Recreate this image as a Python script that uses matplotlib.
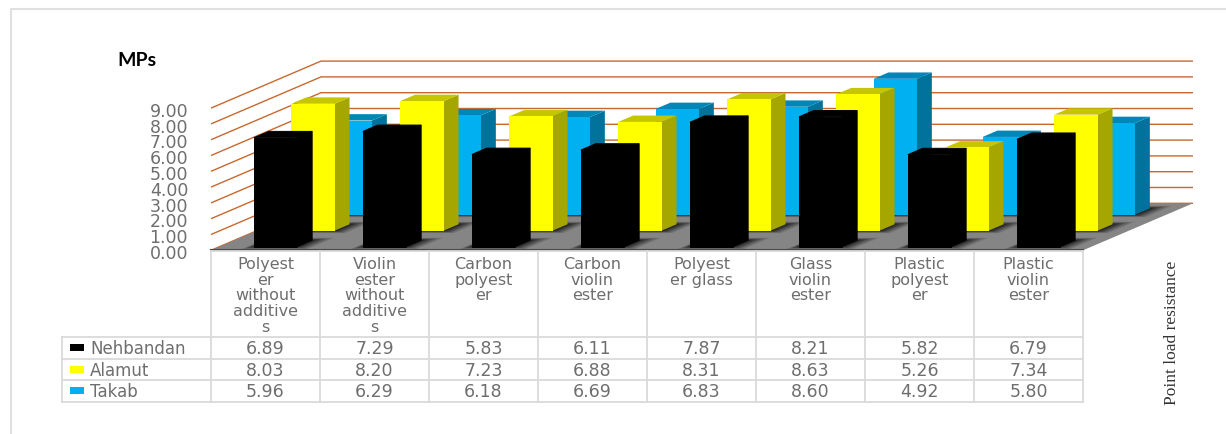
import numpy as np
import matplotlib
matplotlib.use("Agg")
import matplotlib.pyplot as plt
from matplotlib.patches import Polygon

categories = ["Polyest\ner\nwithout\nadditive\ns", "Violin\nester\nwithout\nadditive\ns",
              "Carbon\npolyest\ner", "Carbon\nviolin\nester", "Polyest\ner glass",
              "Glass\nviolin\nester", "Plastic\npolyest\ner", "Plastic\nviolin\nester"]
series_names = ["Nehbandan", "Alamut", "Takab"]
nehbandan = [6.89, 7.29, 5.83, 6.11, 7.87, 8.21, 5.82, 6.79]
alamut = [8.03, 8.20, 7.23, 6.88, 8.31, 8.63, 5.26, 7.34]
takab = [5.96, 6.29, 6.18, 6.69, 6.83, 8.60, 4.92, 5.80]
yticks = np.arange(0, 10)

W, H = 1226, 435
x0, x1 = 211.0, 1083.0   # front edge of the floor in pixels
y0, y9 = 251.3, 109.1    # front wall value 0 and 9 in pixels
DX = 110.0 / ((x1 - x0) / 8)   # wall depth in category units
DY = 47.0 / ((y0 - y9) / 9)    # wall depth in value units
BAR_W = 0.398
BAR_D = 0.135
BAR_X = 0.314

front = ["#000000", "#FFFF00", "#00B0F0"]
side = ["#000000", "#A6A600", "#00729C"]
top = ["#000000", "#C6C600", "#0087B8"]
depth = [0.079, 0.419, 0.758]
GRID = "#C8682E"
TABLE = "#DADADA"
TEXT = "#6E6E6E"

fig = plt.figure(figsize=(W / 100, H / 100), dpi=100)
ax = fig.add_axes([x0 / W, 1 - y0 / H, (x1 - x0) / W, (y0 - y9) / H])
ax.set_xlim(0, 8)
ax.set_ylim(0, 9)
ax.axis("off")

def pr(x, v, d):
    return (x + d * DX, v + d * DY)

# walls
for v in yticks:
    a = pr(0, v, 0)
    b = pr(0, v, 1)
    c = pr(8, v, 1)
    ax.plot([a[0], b[0], c[0]], [a[1], b[1], c[1]], color=GRID, lw=1.0, clip_on=False, zorder=1,
            solid_capstyle="butt")
    ax.text(-0.21, v - 0.05, "%.2f" % v, ha="right", va="center_baseline", fontsize=12.5, color=TEXT,
            family="DejaVu Sans", clip_on=False)

# floor
ax.add_patch(Polygon([pr(0, 0, 0), pr(8, 0, 0), pr(8, 0, 1), pr(0, 0, 1)], closed=True,
                     facecolor="#858585", edgecolor="none", clip_on=False, zorder=2))
ax.plot([0, 8], [0.05, 0.05], color="#4a4a4a", lw=1.5, clip_on=False, zorder=2.1)

# soft shadows on the floor
for s, d in enumerate(depth):
    for i in range(8):
        xl = i + BAR_X
        for grow, alpha in zip([0.15, 0.12, 0.09, 0.06, 0.03], [0.12, 0.16, 0.20, 0.25, 0.30]):
            ax.add_patch(Polygon([pr(xl - grow * 0.4, 0, d - grow * 0.35),
                                  pr(xl + BAR_W + grow, 0, d - grow * 0.35),
                                  pr(xl + BAR_W + grow, 0, d + BAR_D + grow * 0.35),
                                  pr(xl - grow * 0.4, 0, d + BAR_D + grow * 0.35)], closed=True,
                                 facecolor="black", alpha=alpha, edgecolor="none",
                                 clip_on=False, zorder=2.2))

# bars, back row first
for s, vals in reversed(list(enumerate([nehbandan, alamut, takab]))):
    d = depth[s]
    z = 3 + (2 - s)
    xs = np.arange(8) + BAR_X + d * DX
    edge = "black" if s == 0 else "none"
    ax.bar(xs, vals, width=BAR_W, bottom=d * DY, align="edge", color=front[s],
           edgecolor=edge, linewidth=0.7, clip_on=False, zorder=z + 0.5)
    for i, v in enumerate(vals):
        xl = i + BAR_X
        xr = xl + BAR_W
        ax.add_patch(Polygon([pr(xr, 0, d), pr(xr, 0, d + BAR_D), pr(xr, v, d + BAR_D), pr(xr, v, d)],
                             closed=True, facecolor=side[s], edgecolor=edge, linewidth=0.7,
                             clip_on=False, zorder=z))
        ax.add_patch(Polygon([pr(xl, v, d), pr(xr, v, d), pr(xr, v, d + BAR_D), pr(xl, v, d + BAR_D)],
                             closed=True, facecolor=top[s], edgecolor=edge, linewidth=0.7,
                             clip_on=False, zorder=z))

# table and labels, drawn in pixel coordinates
tab = fig.add_axes([0, 0, 1, 1], zorder=5)
tab.set_xlim(0, W)
tab.set_ylim(H, 0)
tab.axis("off")
tab.patch.set_alpha(0)

# outer frame, only top and left show in the picture
tab.plot([10.5, 10.5, W], [H, 10, 10], color="#E0E0E0", lw=1.5)

cols = np.linspace(x0, x1, 9)
rows = [338.0, 359.5, 381.0, 402.5]
for x in cols:
    tab.plot([x, x], [252, rows[-1]], color=TABLE, lw=1.3)
tab.plot([62, 62], [rows[0], rows[-1]], color=TABLE, lw=1.3)
tab.plot([x0, x1], [252, 252], color=TABLE, lw=1.3)
for y in rows:
    tab.plot([62, x1], [y, y], color=TABLE, lw=1.3)

for i, name in enumerate(categories):
    tab.text((cols[i] + cols[i + 1]) / 2, 257, name, ha="center", va="top", fontsize=11.5,
             color=TEXT, linespacing=1.06, family="DejaVu Sans")
for r, (name, vals) in enumerate(zip(series_names, [nehbandan, alamut, takab])):
    yc = (rows[r] + rows[r + 1]) / 2 - 1.5
    tab.add_patch(plt.Rectangle((70, yc - 2), 14, 7, facecolor=front[r], edgecolor="none"))
    tab.text(90, yc, name, ha="left", va="center_baseline", fontsize=12, color=TEXT,
             family="DejaVu Sans")
    for i, v in enumerate(vals):
        tab.text((cols[i] + cols[i + 1]) / 2, yc, "%.2f" % v, ha="center", va="center_baseline",
                 fontsize=12.5, color=TEXT, family="DejaVu Sans")

tab.text(137, 60, "MPs", ha="center", va="center", fontsize=14, fontweight="bold",
         color="black", family="Lato")
tab.text(1172, 333, "Point load resistance", rotation=90, ha="center", va="center",
         fontsize=12.5, color="#333333", family="Liberation Serif")

fig.savefig("out.png", dpi=100, facecolor="white")
